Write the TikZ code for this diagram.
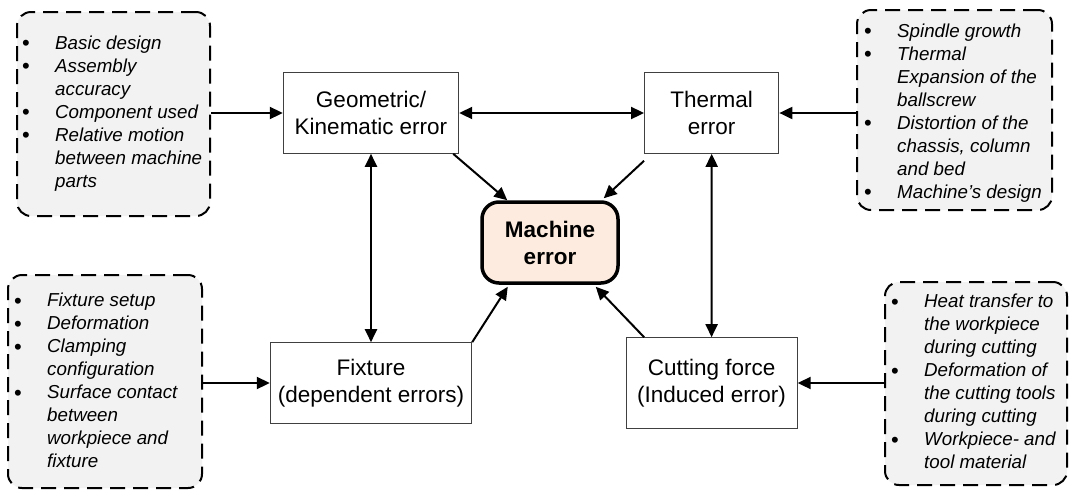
\documentclass[tikz,border=0pt]{standalone}
\usepackage{fontspec}
\setmainfont{Liberation Sans}
\usetikzlibrary{arrows.meta}

\definecolor{notefill}{RGB}{242,242,242}
\definecolor{corefill}{RGB}{252,235,222}
\definecolor{boxline}{RGB}{64,64,64}

% bullet item start and continuation indent for the note lists
\newcommand\lbul{\makebox[33pt][l]{\raisebox{-1.5pt}{\fontsize{22}{22}\selectfont\upshape\textbullet}}}
\newcommand\lcont{\hspace*{33pt}}

\begin{document}
\begin{tikzpicture}[x=1pt,y=-1pt,
  notebox/.style={draw, line width=2pt, dash pattern=on 15pt off 8pt,
    rounded corners=14pt, fill=notefill, inner sep=0pt},
  notetext/.style={anchor=base west, inner sep=0pt,
    font=\fontsize{18.75}{23}\selectfont\itshape},
  errbox/.style={draw=boxline, line width=1pt, fill=white, inner sep=0pt,
    align=center, font=\fontsize{22.5}{27}\selectfont},
  corebox/.style={draw, line width=3.5pt, rounded corners=17pt, fill=corefill,
    inner sep=0pt, align=center, font=\fontsize{22.5}{27}\selectfont\bfseries},
  tip/.tip={Triangle[length=13pt,width=12pt]},
  link/.style={line width=2pt, -tip},
  dlink/.style={line width=2pt, tip-tip}
]
\useasboundingbox (0,0) rectangle (1069,491);

% note boxes listing the error sources
\node[notebox, minimum width=193pt, minimum height=204pt] (ltbox) at (113.5,114) {};
\node[notebox, minimum width=195pt, minimum height=200pt] (rtbox) at (954.5,110) {};
\node[notebox, minimum width=194pt, minimum height=213pt] (lbbox) at (105,381.5) {};
\node[notebox, minimum width=182pt, minimum height=203pt] (rbbox) at (976,383.5) {};

\node[notetext] (ltlist) at (22,49.3) {\parbox[t]{185pt}{\raggedright
  \lbul Basic design\\
  \lbul Assembly\\
  \lcont accuracy\\
  \lbul Component used\\
  \lbul Relative motion\\
  \lcont between machine\\
  \lcont parts}};

\node[notetext] (rtlist) at (864,37) {\parbox[t]{185pt}{\raggedright
  \lbul Spindle growth\\
  \lbul Thermal\\
  \lcont Expansion of the\\
  \lcont ballscrew\\
  \lbul Distortion of the\\
  \lcont chassis, column\\
  \lcont and bed\\
  \lbul Machine’s design}};

\node[notetext] (lblist) at (14,306.7) {\parbox[t]{185pt}{\raggedright
  \lbul Fixture setup\\
  \lbul Deformation\\
  \lbul Clamping\\
  \lcont configuration\\
  \lbul Surface contact\\
  \lcont between\\
  \lcont workpiece and\\
  \lcont fixture}};

\node[notetext] (rblist) at (891,307.7) {\parbox[t]{185pt}{\raggedright
  \lbul Heat transfer to\\
  \lcont the workpiece\\
  \lcont during cutting\\
  \lbul Deformation of\\
  \lcont the cutting tools\\
  \lcont during cutting\\
  \lbul Workpiece- and\\
  \lcont tool material}};

% error categories
\node[errbox, minimum width=175.4pt, minimum height=80.6pt] (geo) at (371,113) {Geometric/\\Kinematic error};
\node[errbox, minimum width=134.3pt, minimum height=80.6pt] (th) at (711.7,113) {Thermal\\error};
\node[errbox, minimum width=201.4pt, minimum height=80.6pt] (fix) at (371,383) {Fixture\\(dependent errors)};
\node[errbox, minimum width=171.2pt, minimum height=90.6pt] (cut) at (711.6,383) {Cutting force\\(Induced error)};
\node[corebox, minimum width=136pt, minimum height=81pt] (core) at (550,242.5) {Machine\\error};

% sources feeding the categories
\draw[link] (ltbox.east |- geo.west) -- (geo.west);
\draw[link] (rtbox.west |- th.east) -- (th.east);
\draw[link] (lbbox.east |- fix.west) -- (fix.west);
\draw[link] (rbbox.west |- cut.east) -- (cut.east);

% interactions between categories
\draw[dlink] (geo.east) -- (th.west);
\draw[dlink] (geo.south) -- (fix.north);
\draw[dlink] (th.south) -- (cut.north);

% contributions to the machine error
\draw[link] ([xshift=-6pt]geo.south east) -- ([xshift=27pt]core.north west);
\draw[link] ([yshift=-7pt]th.south west) -- ([xshift=-16pt,yshift=2pt]core.north east);
\draw[link] (fix.north east) -- ([xshift=27.5pt,yshift=-2pt]core.south west);
\draw[link] ([xshift=18.6pt]cut.north west) -- ([xshift=-24pt,yshift=-2pt]core.south east);
\end{tikzpicture}
\end{document}
